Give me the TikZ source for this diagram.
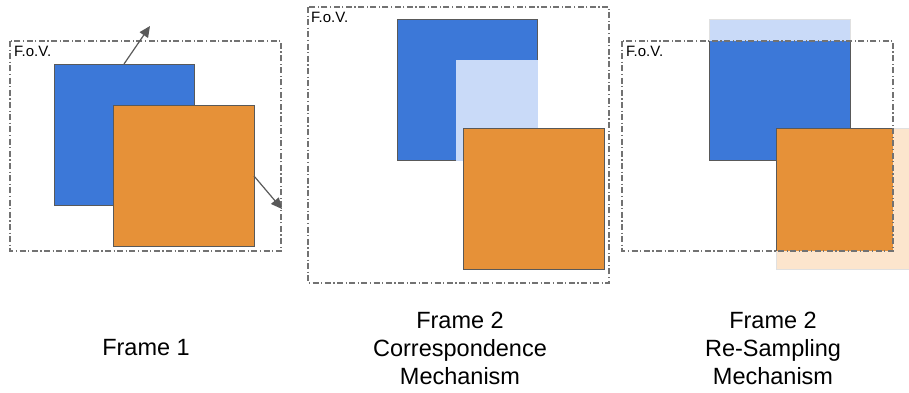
\documentclass[tikz,border=0pt]{standalone}
\usepackage{fontspec}
\setmainfont{Liberation Sans}
\usetikzlibrary{arrows.meta}
\definecolor{sqblue}{HTML}{3C78D8}
\definecolor{sqorange}{HTML}{E69138}
\definecolor{ltblue}{HTML}{C9DAF8}
\definecolor{ltorange}{HTML}{FCE5CD}
\definecolor{edge}{HTML}{595959}
\tikzset{
  sq/.style={draw=edge, line width=1pt, inner sep=0pt, outer sep=0pt, anchor=north west},
  ghost/.style={draw=black!12, line width=0.8pt, inner sep=0pt, outer sep=0pt, anchor=north west},
  fov/.style={draw=edge!85, line width=1.1pt, dash pattern=on 6pt off 2.5pt on 1.2pt off 2.5pt, fill=none},
  fovlabel/.style={font=\fontsize{15}{17}\selectfont, anchor=north west, inner sep=0pt},
  caption/.style={font=\fontsize{23.5}{28}\selectfont, align=center},
  mv/.style={draw=edge, line width=1.2pt, -{Triangle[length=11pt,width=10pt]}}
}
\begin{document}
\begin{tikzpicture}[x=1pt,y=-1pt]
\useasboundingbox (0,0) rectangle (909,392);
% ---------- Panel 1 ----------
\node[sq, fill=sqblue, minimum width=140pt, minimum height=141pt] (b1) at (54,64) {};
\node[sq, fill=sqorange, minimum width=141pt, minimum height=141pt] (o1) at (113,105) {};
\draw[fov] (10,41) rectangle (281,251);
\node[fovlabel] (f1) at (14,46) {F.o.V.};
\coordinate (a1s) at (124,64);
\coordinate (a1e) at (150,26);
\coordinate (a2s) at (254,176);
\coordinate (a2e) at (282,209);
\draw[mv] (a1s) -- (a1e);
\draw[mv] (a2s) -- (a2e);
% ---------- Panel 2 ----------
\draw[fov] (308,7) rectangle (609,283);
\node[fovlabel] (f2) at (311,12) {F.o.V.};
\node[sq, fill=sqblue, minimum width=140pt, minimum height=141pt] (b2) at (397,19) {};
\fill[ltblue] (456,60) rectangle (537.5,160.5);
\node[sq, fill=sqorange, minimum width=141pt, minimum height=141pt] (o2) at (463,128) {};
% ---------- Panel 3 ----------
\begin{scope}
\clip (0,0) rectangle (909,392);
\node[ghost, fill=ltorange, minimum width=141pt, minimum height=141pt] (lo3) at (776,128) {};
\end{scope}
\node[ghost, fill=ltblue, minimum width=141pt, minimum height=22pt] (lb3) at (709,19) {};
\fill[sqblue] (709,41) rectangle (850,160);
\draw[edge, line width=1pt] (709,41) -- (709,160) -- (850,160) -- (850,41);
\fill[sqorange] (776,128) rectangle (893,251);
\draw[edge, line width=1pt] (776,251) -- (776,128) -- (893,128);
\draw[fov] (622,41) rectangle (893,251);
\node[fovlabel] (f3) at (626,46) {F.o.V.};
% ---------- Captions ----------
\node[caption] (c1) at (146,348) {Frame 1};
\node[caption] (c2) at (460,348) {Frame 2\\Correspondence\\Mechanism};
\node[caption] (c3) at (773,348) {Frame 2\\Re-Sampling\\Mechanism};
\end{tikzpicture}
\end{document}
